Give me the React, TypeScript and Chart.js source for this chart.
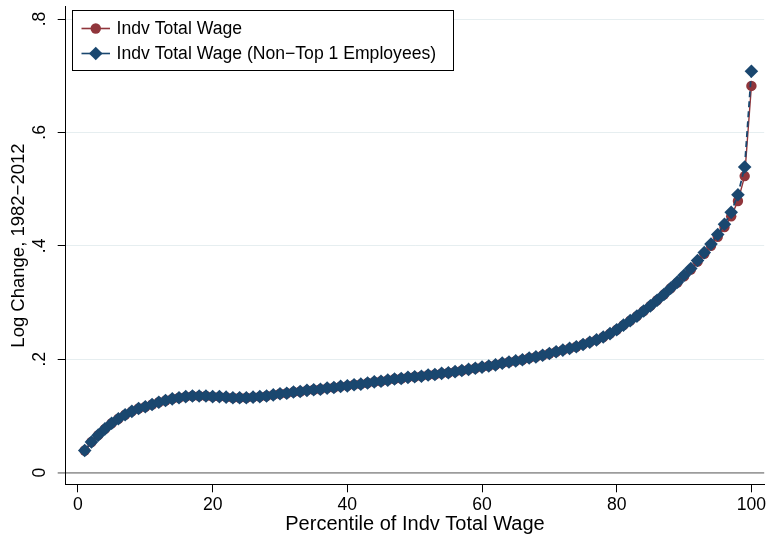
import { useEffect, useRef } from 'react';
import { Chart, registerables } from 'chart.js';

Chart.register(...registerables);

// Percentile of individual total wage
const percentiles = [
  1, 2, 3, 4, 5, 6, 7, 8, 9, 10,
  11, 12, 13, 14, 15, 16, 17, 18, 19, 20,
  21, 22, 23, 24, 25, 26, 27, 28, 29, 30,
  31, 32, 33, 34, 35, 36, 37, 38, 39, 40,
  41, 42, 43, 44, 45, 46, 47, 48, 49, 50,
  51, 52, 53, 54, 55, 56, 57, 58, 59, 60,
  61, 62, 63, 64, 65, 66, 67, 68, 69, 70,
  71, 72, 73, 74, 75, 76, 77, 78, 79, 80,
  81, 82, 83, 84, 85, 86, 87, 88, 89, 90,
  91, 92, 93, 94, 95, 96, 97, 98, 99, 100,
];

// Log change 1982-2012, all employees
const totalWage = [
  0.039, 0.054, 0.066, 0.077, 0.087, 0.095, 0.102, 0.108, 0.113, 0.116,
  0.120, 0.124, 0.127, 0.130, 0.132, 0.134, 0.135, 0.135, 0.135, 0.134,
  0.134, 0.133, 0.132, 0.132, 0.132, 0.133, 0.134, 0.135, 0.137, 0.139,
  0.140, 0.142, 0.143, 0.145, 0.146, 0.147, 0.149, 0.150, 0.152, 0.153,
  0.155, 0.156, 0.158, 0.160, 0.161, 0.163, 0.165, 0.166, 0.168, 0.169,
  0.170, 0.172, 0.173, 0.175, 0.176, 0.178, 0.180, 0.182, 0.184, 0.186,
  0.188, 0.190, 0.193, 0.195, 0.197, 0.199, 0.202, 0.204, 0.207, 0.210,
  0.213, 0.216, 0.219, 0.222, 0.226, 0.230, 0.234, 0.239, 0.245, 0.252,
  0.260, 0.268, 0.276, 0.285, 0.294, 0.304, 0.314, 0.325, 0.335, 0.346,
  0.358, 0.372, 0.386, 0.400, 0.416, 0.433, 0.452, 0.479, 0.523, 0.682,
];

// Log change 1982-2012, excluding top 1 employees
const nonTop1Wage = [
  0.039, 0.054, 0.066, 0.077, 0.087, 0.095, 0.102, 0.108, 0.113, 0.116,
  0.120, 0.124, 0.127, 0.130, 0.132, 0.134, 0.135, 0.135, 0.135, 0.134,
  0.134, 0.133, 0.132, 0.132, 0.132, 0.133, 0.134, 0.135, 0.137, 0.139,
  0.140, 0.142, 0.143, 0.145, 0.146, 0.147, 0.149, 0.150, 0.152, 0.153,
  0.155, 0.156, 0.158, 0.160, 0.161, 0.163, 0.165, 0.166, 0.168, 0.169,
  0.170, 0.172, 0.173, 0.175, 0.176, 0.178, 0.180, 0.182, 0.184, 0.186,
  0.188, 0.190, 0.193, 0.195, 0.197, 0.199, 0.202, 0.204, 0.207, 0.210,
  0.213, 0.216, 0.219, 0.222, 0.226, 0.230, 0.234, 0.239, 0.245, 0.252,
  0.260, 0.268, 0.276, 0.285, 0.294, 0.304, 0.314, 0.325, 0.336, 0.348,
  0.360, 0.374, 0.388, 0.403, 0.420, 0.438, 0.459, 0.490, 0.539, 0.708,
];

const seriesLabels = [
  'Indv Total Wage',
  'Indv Total Wage (Non\u2212Top 1 Employees)',
];

const xTickValues = [0, 20, 40, 60, 80, 100];
const xTickLabels = ['0', '20', '40', '60', '80', '100'];
const yTickValues = [0, 0.2, 0.4, 0.6, 0.8];
const yTickLabels = ['0', '.2', '.4', '.6', '.8'];

const xTitle = 'Percentile of Indv Total Wage';
const yTitle = 'Log Change, 1982\u22122012';

const MAROON = '#90353B';
const NAVY = '#1A476F';
const GRID = '#E6EEF0';
const ZERO_LINE = '#9C9C9C';
const FONT = '"Liberation Sans", Arial, Helvetica, sans-serif';

// Boxed legend drawn inside the plot region, top-left
const boxLegend = {
  id: 'boxLegend',
  afterDraw(chart: any) {
    const { ctx } = chart;
    const left = 72.5;
    const top = 10.5;
    const width = 381;
    const height = 60;
    ctx.save();
    ctx.fillStyle = '#ffffff';
    ctx.fillRect(left, top, width, height);
    ctx.strokeStyle = '#000000';
    ctx.lineWidth = 1;
    ctx.strokeRect(left, top, width, height);

    chart.data.datasets.forEach((ds: any, i: number) => {
      const cy = 28.5 + i * 25;
      const x1 = 81.5;
      const x2 = 110;
      const cx = (x1 + x2) / 2;
      ctx.strokeStyle = ds.borderColor;
      ctx.lineWidth = 1.6;
      ctx.setLineDash([]);
      ctx.beginPath();
      ctx.moveTo(x1, cy);
      ctx.lineTo(x2, cy);
      ctx.stroke();

      ctx.fillStyle = ds.pointBackgroundColor;
      ctx.beginPath();
      const r = ds.pointRadius;
      if (ds.pointStyle === 'rectRot') {
        ctx.moveTo(cx - r, cy);
        ctx.lineTo(cx, cy - r);
        ctx.lineTo(cx + r, cy);
        ctx.lineTo(cx, cy + r);
        ctx.closePath();
      } else {
        ctx.arc(cx, cy, r, 0, Math.PI * 2);
      }
      ctx.fill();

      ctx.fillStyle = '#000000';
      ctx.font = `17.6px ${FONT}`;
      ctx.textBaseline = 'middle';
      ctx.textAlign = 'left';
      ctx.fillText(ds.label, 116.5, cy + 0.5);
    });
    ctx.restore();
  },
};

export default function App() {
  const canvasRef = useRef<HTMLCanvasElement | null>(null);

  useEffect(() => {
    const canvas = canvasRef.current;
    if (!canvas) return;

    const chart = new Chart(canvas, {
      type: 'line',
      data: {
        datasets: [
          {
            label: seriesLabels[0],
            data: percentiles.map((p, i) => ({ x: p, y: totalWage[i] })),
            borderColor: MAROON,
            backgroundColor: MAROON,
            borderWidth: 1.4,
            pointStyle: 'circle',
            pointRadius: 5.2,
            pointBackgroundColor: MAROON,
            pointBorderWidth: 0,
            tension: 0,
            order: 1,
          },
          {
            label: seriesLabels[1],
            data: percentiles.map((p, i) => ({ x: p, y: nonTop1Wage[i] })),
            borderColor: NAVY,
            backgroundColor: NAVY,
            borderWidth: 1.8,
            borderDash: [6, 4],
            pointStyle: 'rectRot',
            pointRadius: 6.8,
            pointBackgroundColor: NAVY,
            pointBorderWidth: 0,
            tension: 0,
            order: 0,
          },
        ],
      },
      options: {
        responsive: false,
        animation: false,
        devicePixelRatio: 1,
        events: [],
        layout: { padding: { top: 4, right: 6, bottom: 0, left: 0 } },
        plugins: {
          legend: { display: false },
          tooltip: { enabled: false },
        },
        scales: {
          x: {
            type: 'linear',
            min: -1.824,
            max: 101.9,
            afterBuildTicks: (scale: any) => {
              scale.ticks = xTickValues.map((v) => ({ value: v }));
            },
            afterFit: (scale: any) => {
              scale.height = 53.7;
              scale.paddingLeft = 0;
              scale.paddingRight = 0;
            },
            ticks: {
              autoSkip: false,
              maxRotation: 0,
              minRotation: 0,
              padding: 2.6,
              color: '#000000',
              font: { family: FONT, size: 17.6 },
              callback: (_v: any, i: number) => xTickLabels[i],
            },
            grid: {
              drawOnChartArea: false,
              drawTicks: true,
              tickLength: 8,
              tickColor: '#000000',
              color: '#000000',
            },
            border: { display: true, color: '#000000', width: 1 },
            title: {
              display: true,
              text: xTitle,
              color: '#000000',
              font: { family: FONT, size: 20 },
              padding: { top: 0, bottom: 2 },
            },
          },
          y: {
            type: 'linear',
            min: -0.02069,
            max: 0.82157,
            afterBuildTicks: (scale: any) => {
              scale.ticks = yTickValues.map((v) => ({ value: v }));
            },
            afterFit: (scale: any) => {
              scale.width = 65.7;
              scale.paddingTop = 0;
              scale.paddingBottom = 0;
            },
            ticks: {
              autoSkip: false,
              minRotation: 90,
              maxRotation: 90,
              crossAlign: 'center',
              padding: 9.9,
              color: '#000000',
              font: { family: FONT, size: 17.6 },
              callback: (_v: any, i: number) => yTickLabels[i],
            },
            grid: {
              drawOnChartArea: true,
              drawTicks: true,
              tickLength: 8,
              color: (c: any) => (c.tick && c.tick.value === 0 ? ZERO_LINE : GRID),
              lineWidth: (c: any) => (c.tick && c.tick.value === 0 ? 1.8 : 1),
              tickColor: (c: any) => (c.tick && c.tick.value === 0 ? ZERO_LINE : '#000000'),
            },
            border: { display: true, color: '#000000', width: 1 },
            title: {
              display: true,
              text: yTitle,
              color: '#000000',
              font: { family: FONT, size: 18.5 },
              padding: { top: 8, bottom: 0 },
            },
          },
        },
      },
      plugins: [boxLegend],
    } as any);

    return () => {
      chart.destroy();
    };
  }, []);

  return (
    <div style={{ position: 'absolute', left: 0, top: 0, width: 771, height: 538, background: '#ffffff' }}>
      <canvas ref={canvasRef} width={771} height={538} style={{ display: 'block' }} />
    </div>
  );
}
